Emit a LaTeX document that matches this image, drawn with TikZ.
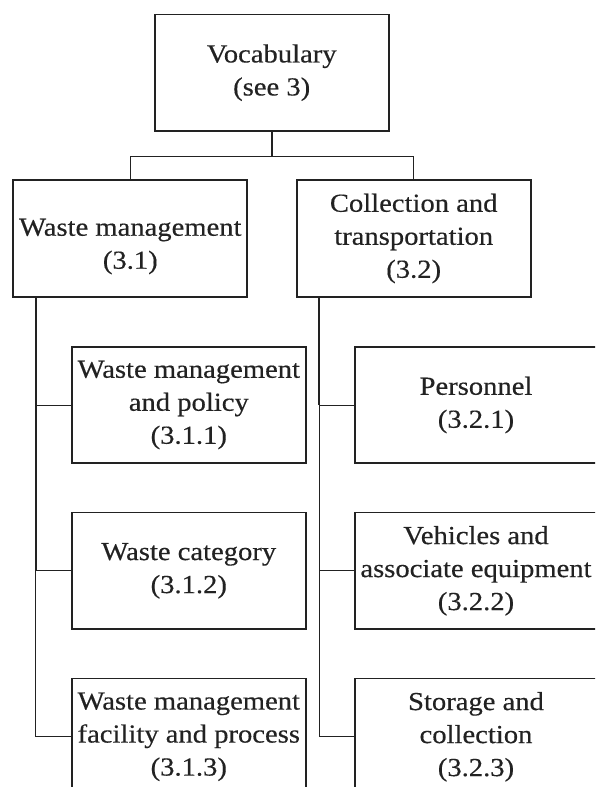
\documentclass[tikz,border=0pt]{standalone}
\usepackage{fontspec}
\setmainfont[FakeStretch=1.1,FakeBold=0.4]{Liberation Serif}
\usetikzlibrary{calc}
\definecolor{ink}{HTML}{222222}
\tikzset{
  box/.style={draw=ink, line width=1.8pt, minimum width=234pt, minimum height=116.5pt,
    inner sep=0pt, align=center, text=ink, font=\fontsize{26}{33}\selectfont},
  thin/.style={draw=ink, line width=1pt},
  mid/.style={draw=ink, line width=1.6pt}
}
\begin{document}
\begin{tikzpicture}[x=1pt,y=-1pt]
\useasboundingbox (0,0) rectangle (595,787);
\clip (0,0) rectangle (595,787);
\node[box] (top) at (271.7,72.7) {Vocabulary\\(see 3)};
\node[box] (L) at (130.3,238.5) {\rule{0pt}{33pt}Waste management\\(3.1)};
\node[box] (R) at (413.7,238.5) {Collection and\\transportation\\(3.2)};
\node[box] (L1) at (188.8,405) {Waste management\\and policy\\(3.1.1)};
\node[box] (L2) at (188.8,570.8) {Waste category\\(3.1.2)};
\node[box] (L3) at (188.8,736.8) {Waste management\\facility and process\\(3.1.3)};
\node[box, minimum width=242pt] (R1) at (476,405) {Personnel\\(3.2.1)};
\node[box, minimum width=242pt] (R2) at (476,570.8) {Vehicles and\\associate equipment\\(3.2.2)};
\node[box, minimum width=242pt] (R3) at (476,736.8) {Storage and\\collection\\(3.2.3)};
% top connectors
\coordinate (j) at ($(top.south)+(0,24.7)$);
\draw[mid] (top.south) -- (j);
\draw[thin] (j) -| (L.north);
\draw[thin] (j) -| (R.north);
% left column
\coordinate (lt) at ($(L.south west)+(23.4,0)$);
\draw[mid] (lt) -- (lt |- L2.west);
\draw[thin] (lt |- L2.west) |- (L3.west);
\draw[thin] (lt |- L1.west) -- (L1.west);
\draw[thin] (lt |- L2.west) -- (L2.west);
% right column
\coordinate (rt) at ($(R.south west)+(23.3,0)$);
\draw[draw=ink, line width=1.3pt] (rt) -- (rt |- R1.west);
\draw[thin] (rt |- R1.west) |- (R3.west);
\draw[thin] (rt |- R1.west) -- (R1.west);
\draw[thin] (rt |- R2.west) -- (R2.west);
\end{tikzpicture}
\end{document}
